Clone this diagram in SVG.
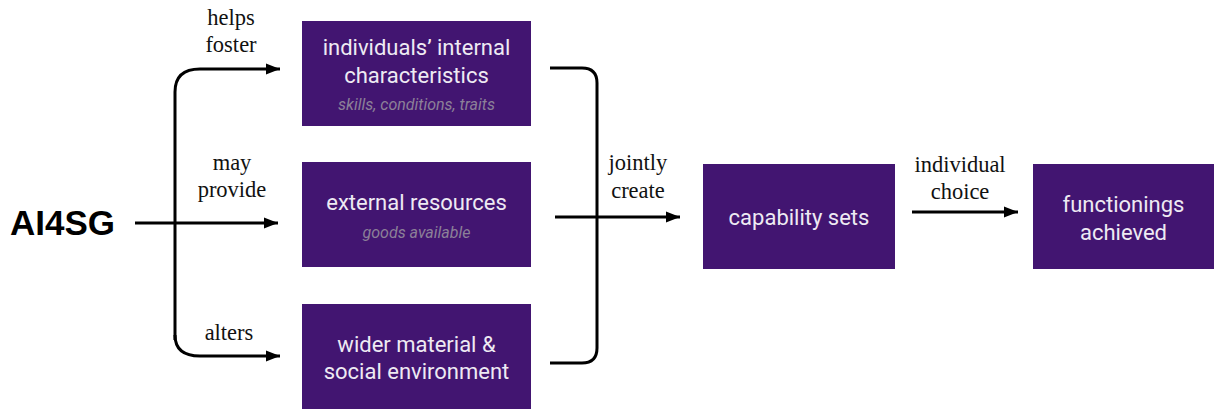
<svg xmlns="http://www.w3.org/2000/svg" width="1214" height="410" viewBox="0 0 1214 410">
<style>
.box{fill:#421571}
.bt{font-family:Roboto,"Liberation Sans",sans-serif;font-size:22px;fill:#eeeaf3;text-anchor:middle}
.sub{font-family:Roboto,"Liberation Sans",sans-serif;font-size:16px;font-style:italic;fill:#8c8098;text-anchor:middle}
.lbl{font-family:"Liberation Serif",serif;font-size:22.5px;fill:#111;text-anchor:middle}
.ln{fill:none;stroke:#000;stroke-width:3}
</style>
<defs>
<marker id="ah" markerWidth="16" markerHeight="12" refX="14" refY="6" orient="auto" markerUnits="userSpaceOnUse">
<path d="M0,0.5 L14,6 L0,11.5 Z" fill="#000"/>
</marker>
</defs>
<g id="ai4sg"><text x="10" y="235" font-family="'Liberation Sans',sans-serif" font-weight="bold" font-size="35" fill="#000">AI4SG</text></g>
<g id="n1"><rect class="box" x="302" y="21" width="229" height="105"/>
<text class="bt" x="416.5" y="55">individuals’ internal</text>
<text class="bt" x="416.5" y="83">characteristics</text>
<text class="sub" x="416.5" y="110">skills, conditions, traits</text></g>
<g id="n2"><rect class="box" x="302" y="162" width="229" height="105"/>
<text class="bt" x="416.5" y="210">external resources</text>
<text class="sub" x="416.5" y="238">goods available</text></g>
<g id="n3"><rect class="box" x="302" y="304" width="229" height="105"/>
<text class="bt" x="416.5" y="352">wider material &amp;</text>
<text class="bt" x="416.5" y="379">social environment</text></g>
<g id="n4"><rect class="box" x="703" y="164" width="192" height="105"/>
<text class="bt" x="799" y="225">capability sets</text></g>
<g id="n5"><rect class="box" x="1033" y="164" width="181" height="105"/>
<text class="bt" x="1123.5" y="212">functionings</text>
<text class="bt" x="1123.5" y="240">achieved</text></g>
<g id="connectors">
<path class="ln" d="M175,340 L175,92 Q175,69 200,69 L280,69" marker-end="url(#ah)"/>
<path class="ln" d="M175,335 Q175,356 200,356 L280,356" marker-end="url(#ah)"/>
<path class="ln" d="M135,223 L278,223" marker-end="url(#ah)"/>
<path class="ln" d="M550,68 L582,68 Q597,68 597,83 L597,348 Q597,363 582,363 L550,363"/>
<path class="ln" d="M555,217 L680,217" marker-end="url(#ah)"/>
<path class="ln" d="M912,212 L1018,212" marker-end="url(#ah)"/>
<text class="lbl" x="231" y="25">helps</text>
<text class="lbl" x="231" y="52">foster</text>
<text class="lbl" x="232" y="170">may</text>
<text class="lbl" x="232" y="197">provide</text>
<text class="lbl" x="229" y="340">alters</text>
<text class="lbl" x="638" y="170">jointly</text>
<text class="lbl" x="638" y="198">create</text>
<text class="lbl" x="960" y="172">individual</text>
<text class="lbl" x="960" y="199">choice</text>
</g>
</svg>
